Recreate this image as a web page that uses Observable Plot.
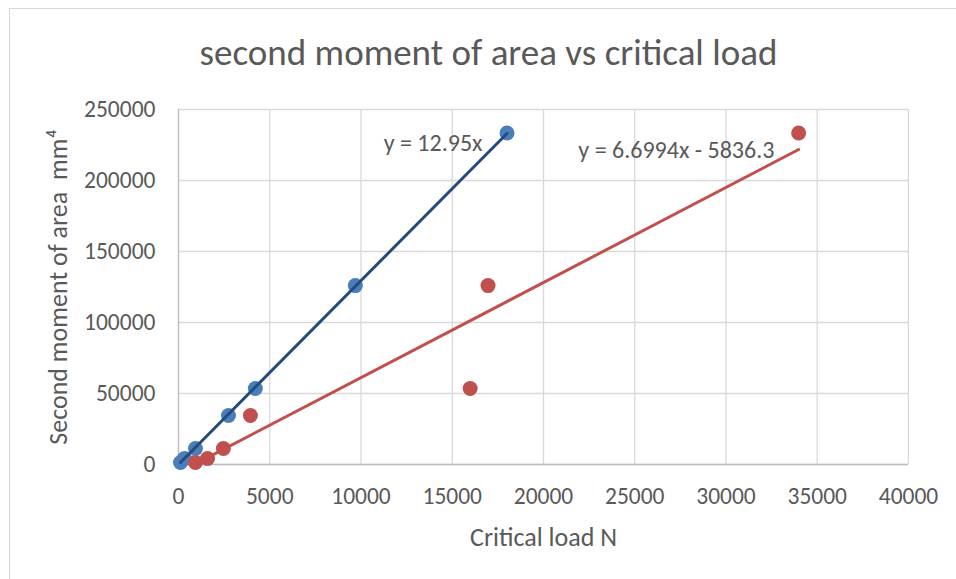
<!DOCTYPE html>
<html>
<head>
<meta charset="utf-8">
<script src="https://cdn.jsdelivr.net/npm/d3@7"></script>
<script src="https://cdn.jsdelivr.net/npm/@observablehq/plot@0.6"></script>
<style>
  html, body { margin: 0; padding: 0; background: #fff; overflow: hidden; width: 956px; height: 579px; }
  #frame { position: absolute; left: 9px; top: 8px; width: 1000px; height: 620px; border: 1px solid #d9d9d9; box-sizing: border-box; }
  #title { position: absolute; left: 0; top: 31px; width: 977px; text-align: center; font-family: Carlito, Calibri, "Open Sans", sans-serif; font-size: 37px; color: #595959; line-height: 44px; white-space: nowrap; }
  #chart { position: absolute; left: 0; top: 85px; }
</style>
</head>
<body>
<div id="frame"></div>
<div id="title">second moment of area vs critical load</div>
<div id="chart"></div>
<script>
// Data
const secondMoment = [1400, 4200, 11300, 34500, 53500, 126000, 233500];   // mm^4
const loadBlue = [110, 330, 930, 2740, 4210, 9690, 18000];             // N
const loadRed  = [930, 1590, 2460, 3940, 15980, 16960, 33980];         // N
const xTicks = [0, 5000, 10000, 15000, 20000, 25000, 30000, 35000, 40000];
const yTicks = [0, 50000, 100000, 150000, 200000, 250000];
// Trendline equations (from the chart)
const blueSlope = 12.95, blueIntercept = 0;
const redSlope = 6.6994, redIntercept = -5836.3;
const trendLabels = ["y = 12.95x", "y = 6.6994x - 5836.3"];
const labelX = [13950, 27280];
const labelY = [226000, 221500];

const blue = loadBlue.map((x, i) => ({x, y: secondMoment[i]}));
const red = loadRed.map((x, i) => ({x, y: secondMoment[i]}));
const trend = (xs, m, b) => [d3.min(xs), d3.max(xs)].map(x => ({x, y: m * x + b}));
const blueTrend = trend(loadBlue, blueSlope, blueIntercept);
const redTrend = trend(loadRed, redSlope, redIntercept);
const labels = trendLabels.map((t, i) => ({t, x: labelX[i], y: labelY[i]}));

const BLUE = "#4a7ebb", RED = "#c0504d", BLUE_LINE = "#254a7c", RED_LINE = "#c0504d";
const FONT = 'Carlito, Calibri, "Open Sans", sans-serif';

const chart = Plot.plot({
  width: 956,
  height: 494,
  marginLeft: 178,
  marginRight: 48,
  marginTop: 24,
  marginBottom: 115,
  style: { fontFamily: FONT, fontSize: "23.5px", color: "#595959", background: "transparent", overflow: "visible" },
  x: { domain: [0, 40000] },
  y: { domain: [0, 250000] },
  marks: [
    Plot.gridX(xTicks, { stroke: "#d9d9d9", strokeOpacity: 1, strokeWidth: 1.3 }),
    Plot.gridY(yTicks, { stroke: "#d9d9d9", strokeOpacity: 1, strokeWidth: 1.3 }),
    Plot.ruleY([0], { stroke: "#bfbfbf", strokeWidth: 1.3 }),
    Plot.ruleX([0], { stroke: "#bfbfbf", strokeWidth: 1.3 }),
    Plot.axisX(xTicks, { tickSize: 0, tickPadding: 23, tickFormat: d3.format("d"), fontSize: 23.5,
      label: "Critical load N", labelAnchor: "center", labelArrow: "none", labelOffset: 81 }),
    Plot.axisY(yTicks, { tickSize: 0, tickPadding: 23, tickFormat: d3.format("d"), fontSize: 23.5,
      label: "Second moment of area  mm⁴", labelAnchor: "center", labelArrow: "none", labelOffset: 130 }),
    Plot.dot(blue, { x: "x", y: "y", r: 7.5, fill: BLUE, stroke: null }),
    Plot.dot(red, { x: "x", y: "y", r: 7.5, fill: RED, stroke: null }),
    Plot.line(blueTrend, { x: "x", y: "y", stroke: BLUE_LINE, strokeWidth: 3 }),
    Plot.line(redTrend, { x: "x", y: "y", stroke: RED_LINE, strokeWidth: 3 }),
    Plot.text(labels, { x: "x", y: "y", text: "t", fontSize: 24, fill: "#595959", textAnchor: "middle" })
  ]
});
document.getElementById("chart").appendChild(chart);
chart.querySelectorAll("g[aria-label='x-axis label'] text, g[aria-label='y-axis label'] text").forEach(t => t.setAttribute("font-size", 26));
</script>
</body>
</html>
